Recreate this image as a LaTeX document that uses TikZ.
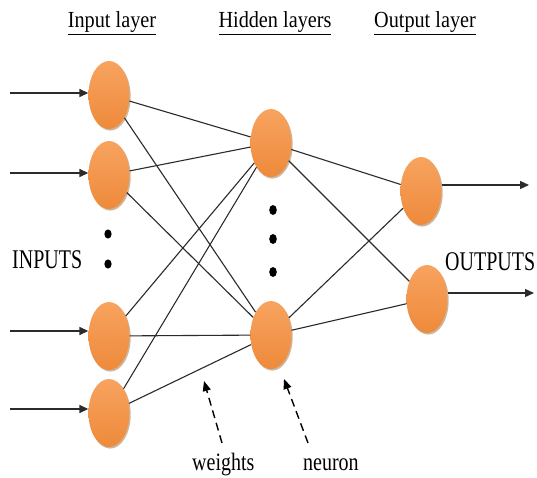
\documentclass[tikz,border=0pt]{standalone}
\usepackage{fontspec}
\setmainfont{Liberation Serif}
\newfontfamily\labfont[FakeStretch=0.88]{Liberation Serif}
\newfontfamily\iofont[FakeStretch=0.74]{Liberation Serif}
\newfontfamily\notefont[FakeStretch=0.8]{Liberation Serif}
\usetikzlibrary{arrows.meta,shapes.geometric,shadows}
\definecolor{orTop}{HTML}{F7A35F}
\definecolor{orBot}{HTML}{EE8A3B}
\definecolor{wirecol}{HTML}{2B2B2B}
\begin{document}
\begin{tikzpicture}[x=1pt,y=-1pt,
  neuronball/.style={ellipse, minimum width=41pt, minimum height=68pt, inner sep=0pt,
    top color=orTop, bottom color=orBot, draw=none,
    drop shadow={shadow xshift=1.2pt, shadow yshift=-1.6pt, fill=brown!75!black, opacity=0.45}},
  wire/.style={draw=wirecol, line width=1.1pt},
  inarrow/.style={draw=wirecol, line width=1.6pt, -{Triangle[length=9pt,width=8pt]}},
  outarrow/.style={draw=wirecol, line width=1.3pt, -{Triangle[length=9pt,width=8pt]}},
  notearrow/.style={draw=black, line width=1.4pt, dash pattern=on 8pt off 5pt, -{Triangle[length=10pt,width=8pt]}},
  layerlabel/.style={anchor=base, inner sep=0pt, font=\labfont\fontsize{23}{26}\selectfont},
  iolabel/.style={anchor=base west, inner sep=0pt, font=\iofont\fontsize{27}{30}\selectfont},
  notelabel/.style={anchor=base west, inner sep=0pt, font=\notefont\fontsize{25}{28}\selectfont},
  dot/.style={fill=black}
]
\fill[white] (0,0) rectangle (537,478);
\useasboundingbox (0,0) rectangle (537,478);

% labels
\node[layerlabel] (lin) at (112,28) {\underline{Input layer}};
\node[layerlabel] (lhid) at (275,28) {\underline{Hidden layers}};
\node[layerlabel] (lout) at (425,28) {\underline{Output layer}};
\node[iolabel] (inputs) at (12,268) {INPUTS};
\node[iolabel] (outputs) at (445,270) {OUTPUTS};
\node[notelabel] (weights) at (192,470) {weights};
\node[notelabel] (neuronlab) at (303,470) {neuron};

% neurons
\node[neuronball] (i1) at (109,95) {};
\node[neuronball] (i2) at (109,175) {};
\node[neuronball] (i3) at (109,336) {};
\node[neuronball] (i4) at (109,413) {};
\node[neuronball] (h1) at (271,143) {};
\node[neuronball] (h2) at (271,335) {};
\node[neuronball] (o1) at (421,191) {};
\node[neuronball] (o2) at (427,299) {};

% dots
\fill[dot] (108,234) ellipse (3.6 and 4.6);
\fill[dot] (108,264) ellipse (3.6 and 4.6);
\fill[dot] (273,210) ellipse (3.8 and 5);
\fill[dot] (273,239) ellipse (3.8 and 5);
\fill[dot] (273,272) ellipse (3.8 and 5);

% wires
\foreach \a in {i1,i2,i3,i4}
  \foreach \b in {h1,h2}
    \draw[wire] (\a) -- (\b);
\foreach \a in {h1,h2}
  \foreach \b in {o1,o2}
    \draw[wire] (\a) -- (\b);

% input arrows
\coordinate (in1) at (10,93);
\coordinate (in2) at (10,173);
\coordinate (in3) at (10,331);
\coordinate (in4) at (10,409);
\draw[inarrow] (in1) -- (in1 -| i1.west);
\draw[inarrow] (in2) -- (in2 -| i2.west);
\draw[inarrow] (in3) -- (in3 -| i3.west);
\draw[inarrow] (in4) -- (in4 -| i4.west);

% output arrows
\coordinate (out1) at (529,185);
\coordinate (out2) at (534,293);
\draw[outarrow] (out1 -| o1.east) -- (out1);
\draw[outarrow] (out2 -| o2.east) -- (out2);

% note arrows
\coordinate (wstart) at (222,443);
\coordinate (wtip) at (204,381);
\coordinate (nstart) at (308,443);
\coordinate (ntip) at (284,379);
\draw[notearrow] (wstart) -- (wtip);
\draw[notearrow] (nstart) -- (ntip);
\end{tikzpicture}
\end{document}
